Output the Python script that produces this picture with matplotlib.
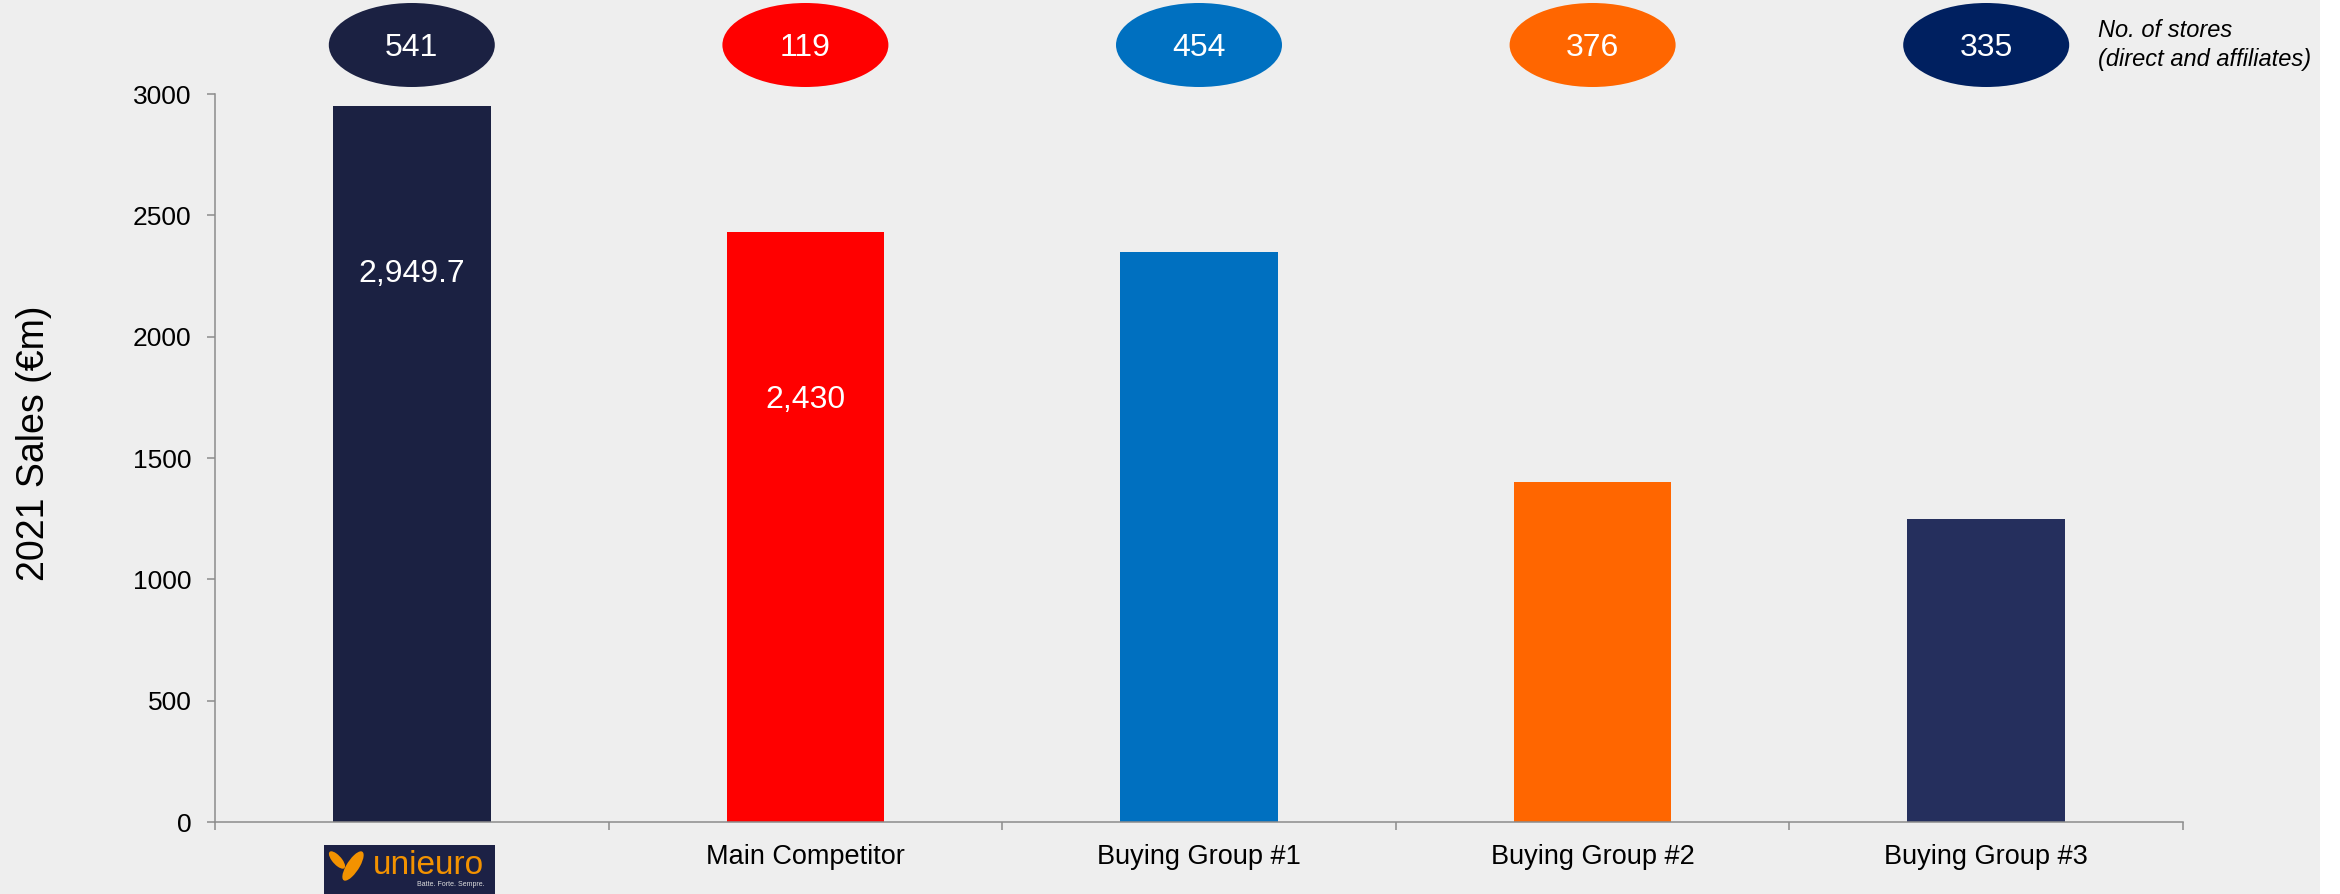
import matplotlib.pyplot as plt
from matplotlib.patches import Ellipse, Rectangle
from matplotlib.transforms import blended_transform_factory

plt.rcParams['font.family'] = ['Liberation Sans', 'DejaVu Sans']

# 2021 sales by retailer (EUR m) and store counts
categories = ["Unieuro", "Main Competitor", "Buying Group #1", "Buying Group #2", "Buying Group #3"]
tick_labels = ["", "Main Competitor", "Buying Group #1", "Buying Group #2", "Buying Group #3"]
sales = [2949.7, 2430, 2350, 1400, 1250]
sales_labels = ["2,949.7", "2,430", None, None, None]
stores = [541, 119, 454, 376, 335]
bar_colors = ["#1B2142", "#FF0000", "#0070C0", "#FF6600", "#252F5D"]
oval_colors = ["#1B2142", "#FF0000", "#0070C0", "#FF6600", "#002060"]
y_ticks = [0, 500, 1000, 1500, 2000, 2500, 3000]

W, H = 2340, 894
fig = plt.figure(figsize=(W / 100, H / 100), dpi=100)
fig.patch.set_facecolor("#EEEEEE")
# thin white strip on the right edge
fig.add_artist(Rectangle((2320 / W, 0), 20 / W, 1, transform=fig.transFigure,
                         facecolor="white", edgecolor="none", zorder=0))

ax = fig.add_axes([215 / W, (H - 822) / H, 1968 / W, 728 / H])
ax.set_facecolor("none")

x = list(range(len(categories)))
ax.bar(x, sales, width=0.4, color=bar_colors, zorder=2)

ax.set_xlim(-0.5, len(categories) - 0.5)
ax.set_ylim(0, 3000)
ax.set_yticks(y_ticks)
ax.set_xticks(x)
ax.set_xticklabels(tick_labels)
ax.set_xticks([i - 0.5 for i in range(len(categories) + 1)], minor=True)

grey = "#8C8C8C"
for side in ["top", "right"]:
    ax.spines[side].set_visible(False)
for side in ["left", "bottom"]:
    ax.spines[side].set_color(grey)
    ax.spines[side].set_linewidth(1.1)

ax.tick_params(axis="y", direction="out", length=6, width=1.1, color=grey,
               labelsize=19, pad=11, labelcolor="black")
ax.tick_params(axis="x", which="major", length=0, labelsize=19.5, pad=16)
ax.tick_params(axis="x", which="minor", direction="out", length=6, width=1.1, color=grey)

ax.set_ylabel("2021 Sales (€m)", fontsize=27)
ax.yaxis.label.set_va("center")
ax.yaxis.set_label_coords((34 - 215) / 1968, (822 - 443) / 728)

# value labels inside the bars
for xi, val, lab in zip(x, sales, sales_labels):
    if lab:
        ax.annotate(lab, (xi, val), xytext=(0, -121), textcoords="offset points",
                    ha="center", va="center", color="white", fontsize=23, zorder=3)

# store-count ovals above the plot
tr = blended_transform_factory(ax.transData, ax.transAxes)
oval_y = (822 - 45) / 728
for xi, n, c in zip(x, stores, oval_colors):
    ax.add_patch(Ellipse((xi, oval_y), 166 / 393.6, 84 / 728, transform=tr,
                         facecolor=c, edgecolor="none", clip_on=False, zorder=3))
    ax.text(xi, oval_y, str(n), transform=tr, ha="center", va="center_baseline",
            color="white", fontsize=23, zorder=4)

ax.text((2098 - 215) / 393.6 - 0.5, oval_y, "No. of stores\n(direct and affiliates)",
        transform=tr, ha="left", va="center", fontsize=17, style="italic",
        linespacing=1.35, color="black")

# unieuro logo under the first bar
fig.add_artist(Rectangle((324 / W, 0), 171 / W, 49 / H, transform=fig.transFigure,
                         facecolor="#1C2145", edgecolor="none", zorder=5))
fig.add_artist(Ellipse((337 / W, (H - 860) / H), 11 / W, 18 / H, angle=15,
                       transform=fig.transFigure,
                       facecolor="#F39200", edgecolor="none", zorder=6))
fig.add_artist(Ellipse((353 / W, (H - 866) / H), 14 / W, 30 / H, angle=-12,
                       transform=fig.transFigure,
                       facecolor="#F39200", edgecolor="none", zorder=6))
fig.text(428 / W, (H - 866) / H, "unieuro", ha="center", va="center",
         fontsize=24, color="#F39200", zorder=7)
fig.text(451 / W, (H - 884) / H, "Batte. Forte. Sempre.", ha="center", va="center",
         fontsize=5, color="#DDDDDD", zorder=7)

fig.savefig("out.png", dpi=100, facecolor=fig.get_facecolor())
